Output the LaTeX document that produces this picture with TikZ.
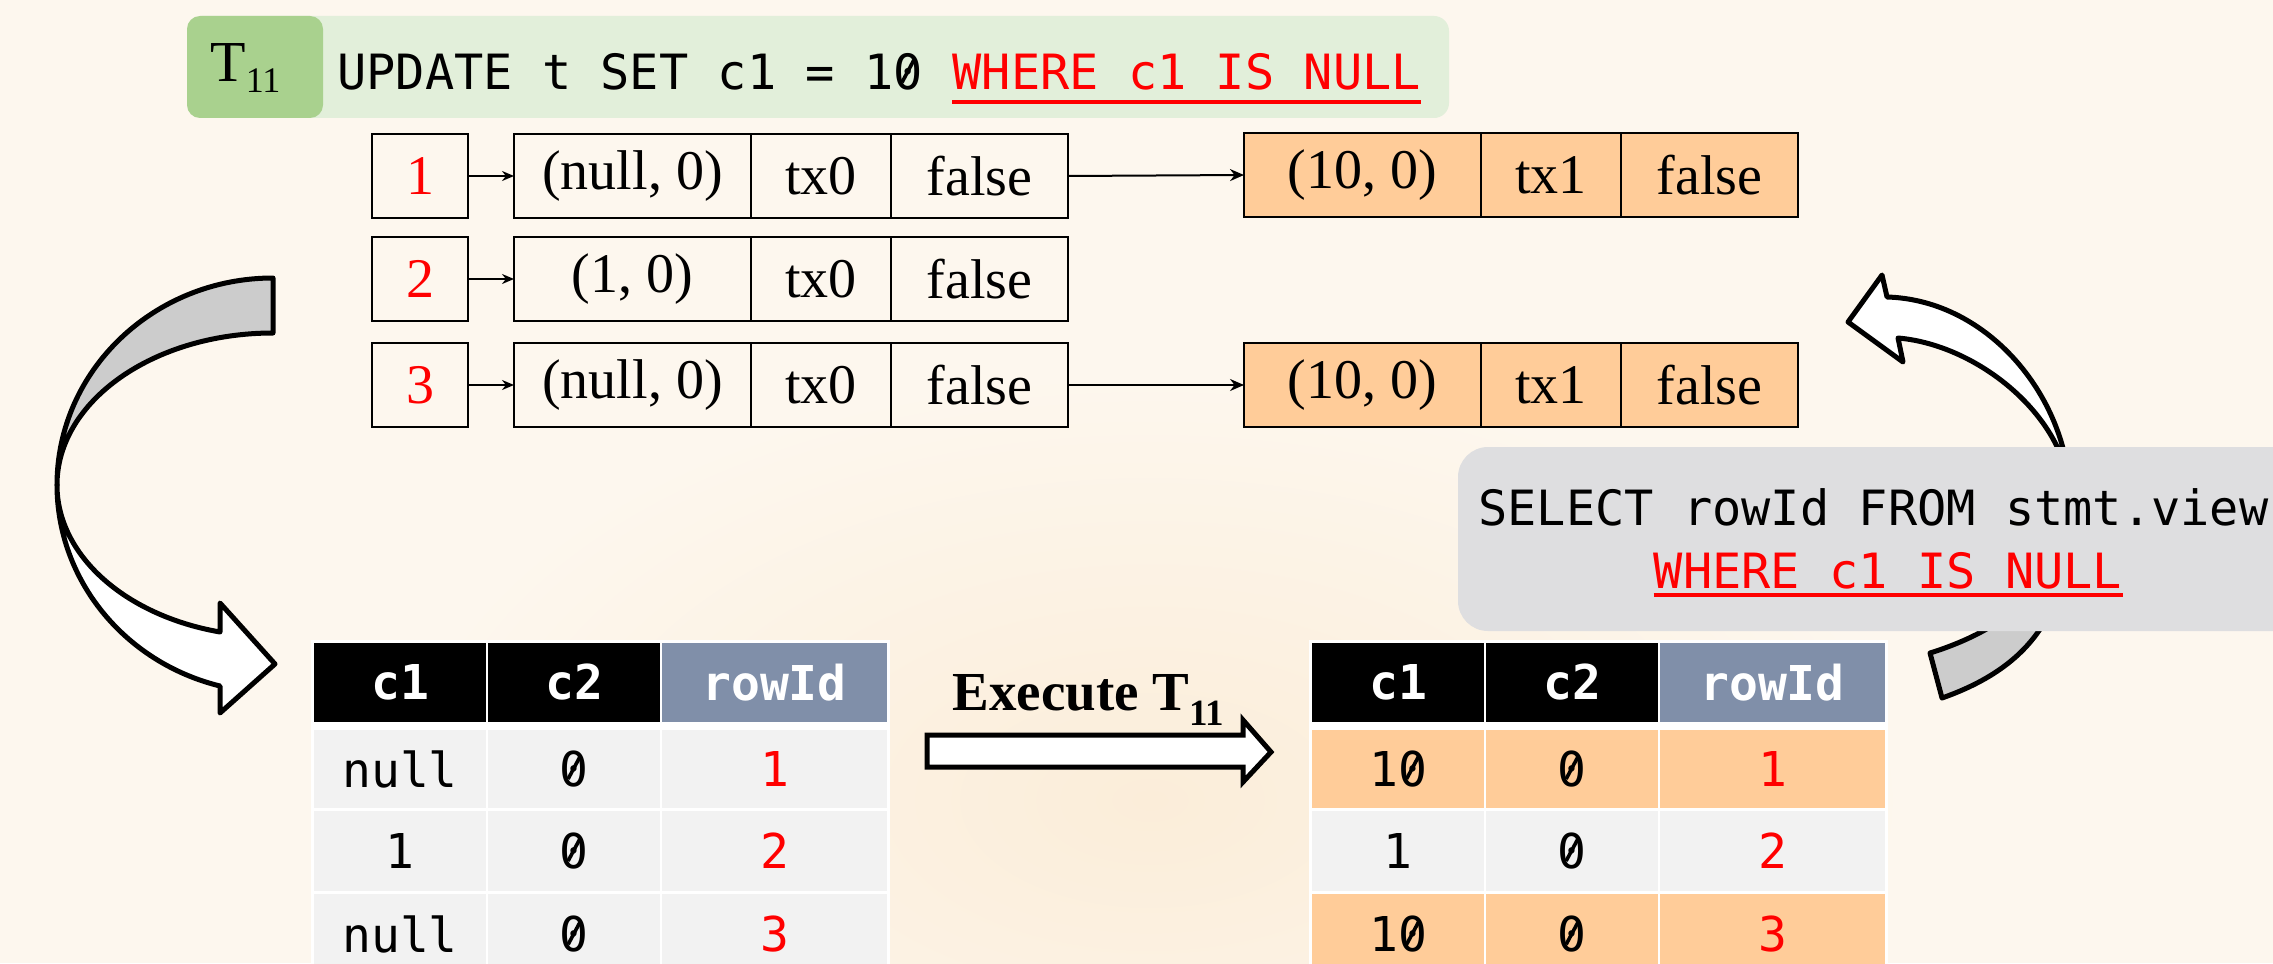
\documentclass[tikz,border=0pt]{standalone}
\usepackage{fontspec}
\usepackage{graphicx}
\setmainfont{Liberation Serif}
\setmonofont{DejaVu Sans Mono}
\usetikzlibrary{arrows.meta}

\definecolor{bgcream}{RGB}{253,247,238}
\definecolor{bgpeach}{RGB}{251,237,217}
\definecolor{lightgreen}{RGB}{226,239,218}
\definecolor{darkgreen}{RGB}{169,209,142}
\definecolor{peach}{RGB}{255,204,153}
\definecolor{boxgray}{RGB}{222,222,224}
\definecolor{arrowgray}{RGB}{204,204,204}
\definecolor{rowgray}{RGB}{242,242,242}
\definecolor{slate}{RGB}{128,143,169}

\newcommand{\serifsize}{\fontsize{28}{32}\selectfont}
\newcommand{\codesize}{\fontsize{24.3}{29}\selectfont\ttfamily}
\newcommand{\tabsize}{\fontsize{24}{29}\selectfont\ttfamily}
% slashed zero for the monospaced text: a zero crossed by a thin rotated rule
\newcommand{\zs}{\makebox[0pt][l]{0}\makebox[\fontcharwd\font`0][c]{\raisebox{0.14em}{\rotatebox{62}{\rule{0.52em}{0.075em}}}}}

\begin{document}
\begin{tikzpicture}[x=0.5pt,y=-0.5pt,
  cellbox/.style={draw=black, line width=1.4pt, inner sep=0pt, outer sep=0pt,
    minimum height=42pt, font=\serifsize, anchor=west},
  idbox/.style={cellbox, minimum width=48pt, text=red},
  wA/.style={minimum width=118.5pt},
  wB/.style={minimum width=70pt},
  wC/.style={minimum width=88.5pt},
  newver/.style={fill=peach},
  link/.style={line width=1pt, -{Stealth[length=6pt,width=5pt]}},
  longlink/.style={line width=1pt, -{Stealth[length=7pt,width=6pt]}},
  bigarrow/.style={draw=black, line width=2.5pt, line join=round},
  code/.style={font=\codesize, inner sep=0pt},
  tcell/.style={inner sep=0pt, outer sep=0pt, font=\tabsize},
  colA/.style={tcell, minimum width=86pt},
  colB/.style={tcell, minimum width=86pt},
  colC/.style={tcell, minimum width=112.5pt},
  hdr/.style={minimum height=39.5pt, fill=black, text=white, font=\tabsize\bfseries},
  hdrid/.style={minimum height=39.5pt, fill=slate, text=white, font=\tabsize\bfseries},
  rowa/.style={minimum height=39pt},
  rowb/.style={minimum height=40pt},
  rowc/.style={minimum height=40.5pt},
  plain/.style={fill=rowgray},
  changed/.style={fill=peach},
  rid/.style={text=red}
]
\useasboundingbox (0,0) rectangle (2273,963);
\clip (0,0) rectangle (2273,963);

% background
\fill[bgcream] (0,0) rectangle (2273,963);
\shade[inner color=bgpeach, outer color=bgcream] (1150,800) ellipse (760 and 430);

% statement banner
\fill[lightgreen, rounded corners=7.5pt] (187,16) rectangle (1449,118);
\fill[darkgreen, rounded corners=6.5pt] (187,16) rectangle (323,118);
\node[anchor=base west, inner sep=0pt, font=\fontsize{29}{32}\selectfont] (tname) at (210,82)
  {T\raisebox{-5.5pt}{\fontsize{18}{17}\selectfont 11}};
\node[code, anchor=base west] (upd) at (337,90) {UPDATE t SET c1 = 1\zs};
\node[code, anchor=base west, text=red] (updw) at ([xshift=14.63pt]upd.base east) {WHERE c1 IS NULL};
\draw[red, line width=1.6pt] ([yshift=-6pt]updw.base west) -- ([yshift=-6pt]updw.base east);

% version chains
\node[idbox] (id1) at (372,176) {1};
\node[cellbox, wA] (v1a) at (514,176) {(null, 0)};
\node[cellbox, wB] (v1b) at (v1a.east) {tx0};
\node[cellbox, wC] (v1c) at (v1b.east) {false};
\node[cellbox, wA, newver] (n1a) at (1244,175) {(10, 0)};
\node[cellbox, wB, newver] (n1b) at (n1a.east) {tx1};
\node[cellbox, wC, newver] (n1c) at (n1b.east) {false};

\node[idbox] (id2) at (372,279) {2};
\node[cellbox, wA] (v2a) at (514,279) {(1, 0)};
\node[cellbox, wB] (v2b) at (v2a.east) {tx0};
\node[cellbox, wC] (v2c) at (v2b.east) {false};

\node[idbox] (id3) at (372,385) {3};
\node[cellbox, wA] (v3a) at (514,385) {(null, 0)};
\node[cellbox, wB] (v3b) at (v3a.east) {tx0};
\node[cellbox, wC] (v3c) at (v3b.east) {false};
\node[cellbox, wA, newver] (n3a) at (1244,385) {(10, 0)};
\node[cellbox, wB, newver] (n3b) at (n3a.east) {tx1};
\node[cellbox, wC, newver] (n3c) at (n3b.east) {false};

\draw[link] (id1) -- (v1a);
\draw[link] (id2) -- (v2a);
\draw[link] (id3) -- (v3a);
\draw[longlink] (v1c.east) -- (n1a.west);
\draw[longlink] (v3c) -- (n3a);

% curved arrow on the left: shaded back, white front with head
\filldraw[fill=arrowgray, bigarrow] (273,278) .. controls (153.7,278) and (57,370.7) .. (57,485)
  .. controls (57,401.1) and (153.7,333) .. (273,333) -- cycle;
\filldraw[fill=white, bigarrow] (57,485) .. controls (57,579.7) and (124.3,662.4) .. (220,686)
  -- (220,713) -- (275,664) -- (220,603) -- (220,632)
  .. controls (124.3,615.3) and (57,554.6) .. (57,485) -- cycle;

% curved arrow on the right
\filldraw[fill=white, bigarrow] (1898,338) -- (1903,362) -- (1848,322) -- (1882,275) -- (1887,297)
  .. controls (1990,300) and (2070,400) .. (2070,500)
  .. controls (2070,420) and (1980,345) .. (1898,338) -- cycle;
\filldraw[fill=arrowgray, bigarrow] (2070,500) .. controls (2070,590) and (2050,660) .. (1942,698)
  -- (1930,653) .. controls (2020,625) and (2070,570) .. (2070,500) -- cycle;

% query box
\fill[boxgray, rounded corners=15pt] (1458,447) rectangle (2330,631);
\node[code, anchor=base west] (sel) at (1478,525) {SELECT rowId FROM stmt.view};
\node[code, anchor=base, text=red] (selw) at (1888,588) {WHERE c1 IS NULL};
\draw[red, line width=1.6pt] ([yshift=-3.5pt]selw.base west) -- ([yshift=-3.5pt]selw.base east);

% table before
\fill[white] (311,640) rectangle (890,980);
\node[colA, hdr]   (L-h1) at (400,682.5) {c1};
\node[colB, hdr]   (L-h2) at (574,682.5) {c2};
\node[colC, hdrid] (L-h3) at (774.5,682.5) {rowId};
\node[colA, rowa, plain] (L-11) at (400,769) {null};
\node[colB, rowa, plain] (L-12) at (574,769) {\zs};
\node[colC, rowa, plain, rid] (L-13) at (774.5,769) {1};
\node[colA, rowb, plain] (L-21) at (400,851) {1};
\node[colB, rowb, plain] (L-22) at (574,851) {\zs};
\node[colC, rowb, plain, rid] (L-23) at (774.5,851) {2};
\node[colA, rowc, plain] (L-31) at (400,934.5) {null};
\node[colB, rowc, plain] (L-32) at (574,934.5) {\zs};
\node[colC, rowc, plain, rid] (L-33) at (774.5,934.5) {3};

% table after
\fill[white] (1309,640) rectangle (1888,980);
\node[colA, hdr]   (R-h1) at (1398,682.5) {c1};
\node[colB, hdr]   (R-h2) at (1572,682.5) {c2};
\node[colC, hdrid] (R-h3) at (1772.5,682.5) {rowId};
\node[colA, rowa, changed] (R-11) at (1398,769) {1\zs};
\node[colB, rowa, changed] (R-12) at (1572,769) {\zs};
\node[colC, rowa, changed, rid] (R-13) at (1772.5,769) {1};
\node[colA, rowb, plain] (R-21) at (1398,851) {1};
\node[colB, rowb, plain] (R-22) at (1572,851) {\zs};
\node[colC, rowb, plain, rid] (R-23) at (1772.5,851) {2};
\node[colA, rowc, changed] (R-31) at (1398,934.5) {1\zs};
\node[colB, rowc, changed] (R-32) at (1572,934.5) {\zs};
\node[colC, rowc, changed, rid] (R-33) at (1772.5,934.5) {3};

% execution step
\node[anchor=base west, inner sep=0pt, font=\fontsize{27.5}{30}\selectfont\bfseries] (exec) at (952,710)
  {Execute T\raisebox{-7.5pt}{\fontsize{18.5}{18}\selectfont\bfseries 11}};
\filldraw[fill=white, bigarrow, line join=miter] (927,735) -- (1243,735) -- (1243,720) -- (1271,752)
  -- (1243,782) -- (1243,767) -- (927,767) -- cycle;
\end{tikzpicture}
\end{document}
